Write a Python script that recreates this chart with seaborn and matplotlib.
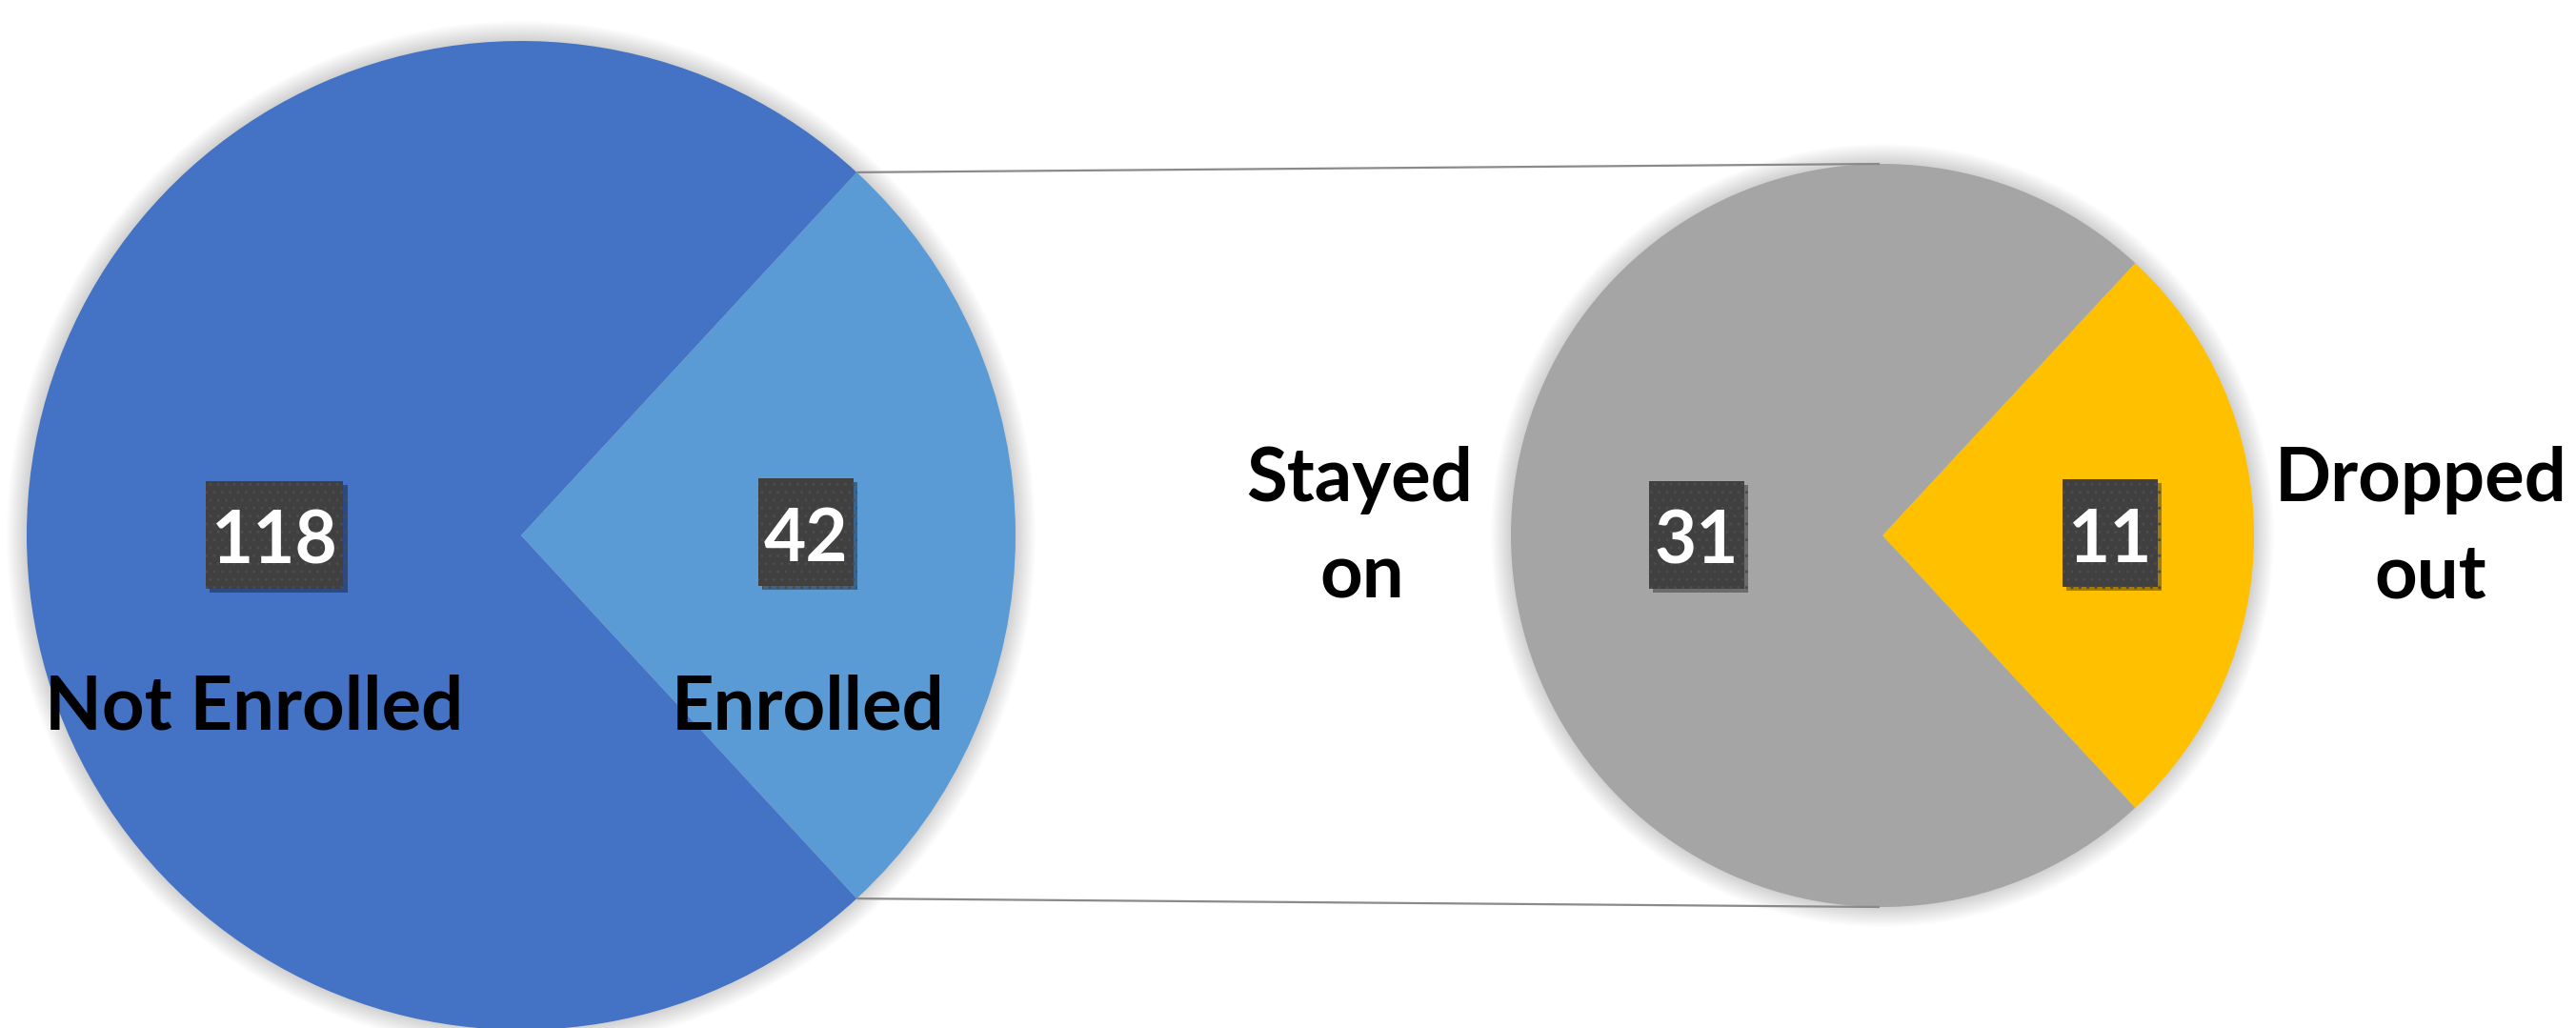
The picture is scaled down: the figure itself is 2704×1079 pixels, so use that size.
import matplotlib
matplotlib.use("Agg")
import matplotlib.pyplot as plt
import seaborn as sns
import numpy as np
from matplotlib.patches import Circle, Rectangle
import matplotlib.patheffects as pe

# ---- data ----
main_labels = ["Enrolled", "Not Enrolled"]
main_values = [42, 118]
sub_labels = ["Dropped out", "Stayed on"]
sub_values = [11, 31]
main_colors = ["#5B9BD5", "#4472C4"]
sub_colors = ["#FFC000", "#A5A5A5"]

sns.set_theme(style="white")
plt.rcParams['font.family'] = ['Lato', 'DejaVu Sans']

W, H = 2704, 1079
fig = plt.figure(figsize=(W / 100, H / 100), dpi=100)
ax = fig.add_axes([0, 0, 1, 1])

c1, r1 = (547, 517), 519
c2, r2 = (1976, 517), 390


def glow(c, r):
    for k in range(1, 16):
        ax.add_patch(Circle(c, r + k * 1.4, color="black", alpha=0.010, lw=0, zorder=0))


glow(c1, r1)
glow(c2, r2)

a1 = main_values[0] / sum(main_values) * 180
a2 = sub_values[0] / sum(sub_values) * 180
ax.pie(main_values, colors=main_colors, startangle=-a1, center=c1, radius=r1,
       counterclock=True, wedgeprops=dict(lw=0), frame=False)
ax.pie(sub_values, colors=sub_colors, startangle=-a2, center=c2, radius=r2,
       counterclock=True, wedgeprops=dict(lw=0), frame=False)

ax.set_xlim(0, W)
ax.set_ylim(0, H)
ax.set_aspect("equal")
ax.axis("off")

# connector lines
th = np.deg2rad(a1)
for s in (1, -1):
    x0 = c1[0] + r1 * np.cos(th)
    y0 = c1[1] + s * r1 * np.sin(th)
    ax.plot([x0, c2[0] - 3], [y0, c2[1] + s * r2], color="#8a8a8a", lw=1.6, zorder=2,
            solid_capstyle="butt")

NFS = 55
LFS = 56
renderer = fig.canvas.get_renderer()


def numbox(x, y, s):
    t = ax.text(x, y - 30, s, ha="center", va="baseline", color="white",
                fontsize=NFS, fontweight="bold", zorder=6)
    w = t.get_window_extent(renderer).width
    rect = Rectangle((x - w / 2 - 6, y - 56), w + 12, 113, facecolor="#404040",
                     edgecolor="#4c4c4c", hatch="..", lw=0, zorder=5)
    rect.set_path_effects([pe.SimplePatchShadow(offset=(3, -3), shadow_rgbFace="black", alpha=0.35),
                           pe.Normal()])
    ax.add_patch(rect)


numbox(288, 517, str(main_values[1]))
numbox(846, 520, str(main_values[0]))
numbox(1781, 517, str(sub_values[1]))
numbox(2215, 519, str(sub_values[0]))

lab = dict(ha="center", va="baseline", color="black", fontsize=LFS, fontweight="bold", zorder=6)
ax.text(267, 313, main_labels[1], **lab)
ax.text(848, 313, main_labels[0], **lab)

st = sub_labels[1].split(" ")
dr = sub_labels[0].split(" ")
ax.text(1427, 553, st[0], **lab)
ax.text(1430, 451, st[1], **lab)
ax.text(2541, 553, dr[0], **lab)
ax.text(2551, 451, dr[1], **lab)

fig.savefig("out.png", dpi=100)
